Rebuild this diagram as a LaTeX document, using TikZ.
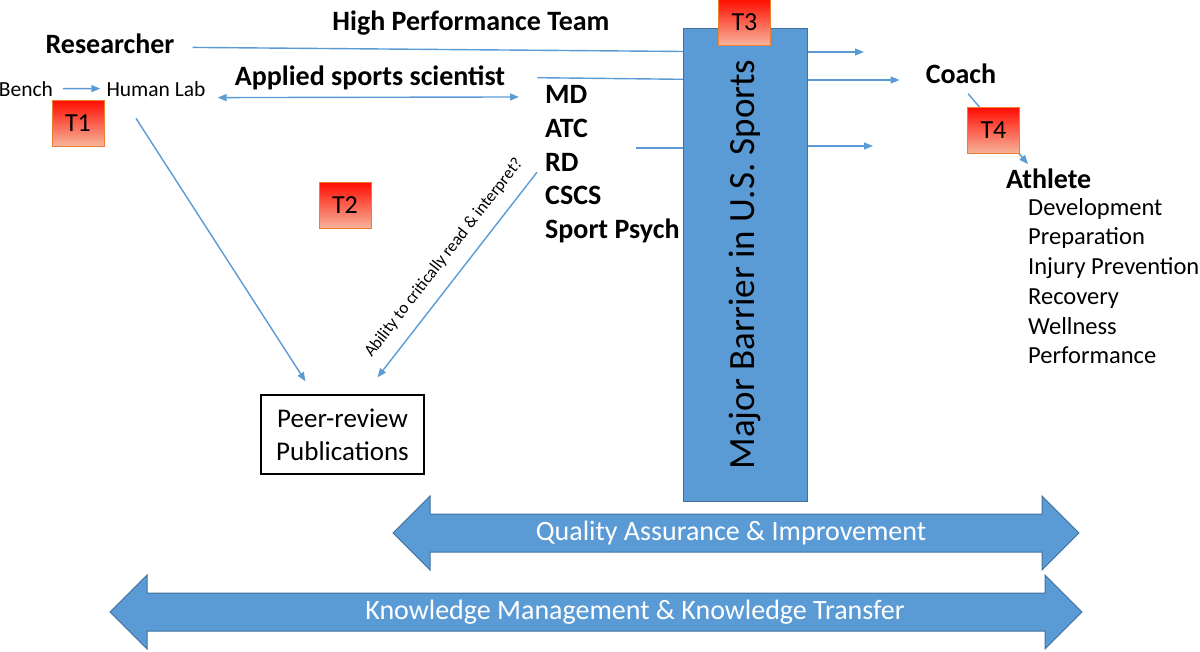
\documentclass[tikz,border=0pt]{standalone}
\usepackage{fontspec}
\setmainfont{Carlito}
\usetikzlibrary{positioning, arrows.meta, calc}
\definecolor{officeblue}{RGB}{91, 155, 213}
\definecolor{edgeblue}{RGB}{65, 113, 156}
\definecolor{tred}{RGB}{255, 12, 0}
\definecolor{tpink}{RGB}{247, 180, 155}
\definecolor{torange}{RGB}{237, 125, 49}
\tikzset{
  role/.style={font=\fontsize{28}{32}\selectfont\bfseries, inner sep=2pt},
  plain/.style={font=\fontsize{21.5}{26}\selectfont, inner sep=2pt},
  goal/.style={font=\fontsize{24.5}{28}\selectfont, inner sep=2pt, anchor=base west},
  tbox/.style={
    draw=torange, line width=0.8pt,
    top color=tred, bottom color=tpink,
    minimum width=52pt, minimum height=46pt,
    inner sep=0pt, font=\fontsize{26}{30}\selectfont
  },
  link/.style={draw=officeblue, line width=1.4pt},
  signal/.style={link, -{Triangle[length=9pt, width=7pt]}},
  bisignal/.style={link, {Triangle[length=9pt, width=7pt]}-{Triangle[length=9pt, width=7pt]}},
  bigarrow/.style={fill=officeblue, draw=edgeblue, line width=1pt},
  bigtext/.style={font=\fontsize{28}{32}\selectfont, text=white}
}
\newcommand{\drawbigarrow}[6]{
  \draw[bigarrow]
    (#1, #3) -- (#1+37, #3-37) -- (#1+37, #3-19) --
    (#2-37, #3-19) -- (#2-37, #3-37) -- (#2, #3) --
    (#2-37, #3+37) -- (#2-37, #3+19) --
    (#1+37, #3+19) -- (#1+37, #3+37) -- cycle;
  \node[bigtext] (#4) at (#5, #3) {#6};
}

\begin{document}
\begin{tikzpicture}[x=1pt, y=-1pt]
\useasboundingbox (0,0) rectangle (1200,651);

% Roles
\node[role, anchor=base] (hpt) at (471,30) {High Performance Team};
\node[role, anchor=base] (researcher) at (110,53) {Researcher};
\node[role, anchor=base] (applied) at (370,85) {Applied sports scientist};
\node[plain, anchor=base] (bench) at (26,96) {Bench};
\node[plain, anchor=base] (humanlab) at (156,96) {Human Lab};

% Practitioners
\node[role, anchor=base west] (md) at (543,103) {MD};
\node[role, anchor=base west] (atc) at (543,137) {ATC};
\node[role, anchor=base west] (rd) at (543,171) {RD};
\node[role, anchor=base west] (cscs) at (543,204) {CSCS};
\node[role, anchor=base west] (psych) at (543,238) {Sport Psych};

% Coach and Athlete
\node[role, anchor=base] (coach) at (961,83) {Coach};
\node[role, anchor=base west] (athlete) at (1004,188) {Athlete};
\node[goal] (dev) at (1026,215) {Development};
\node[goal] (prep) at (1026,244) {Preparation};
\node[goal] (injury) at (1026,274) {Injury Prevention};
\node[goal] (recov) at (1026,304) {Recovery};
\node[goal] (well) at (1026,334) {Wellness};
\node[goal] (perf) at (1026,363) {Performance};

% Peer-review
\node[draw, line width=1.3pt, minimum width=163pt, minimum height=79pt, align=center,
  font=\fontsize{27}{33}\selectfont] (peer) at (342.5,434.5) {Peer-review\\Publications};

% Free ends
\coordinate (hpt_end) at (864,52);
\coordinate (rd_start) at (636,148);
\coordinate (rd_end) at (873,146);

% Conexiones
\draw[signal, shorten <=8pt, shorten >=4pt] (bench.east) -- (humanlab.west);
\draw[bisignal, shorten <=10pt, shorten >=24pt] ([yshift=-9pt]humanlab.east) -- ([yshift=-3pt]md.west);
\draw[link, shorten <=16pt] ([yshift=-4pt]researcher.east) -- (745,52);
\draw[link, shorten <=30pt] (applied.east) -- (745,80);
\draw[link] (rd_start) -- (745,148);
\draw[signal] ($(humanlab.south)+(-20,20)$) -- ($(peer.north)+(-37,-13)$);
\draw[{Triangle[length=9pt, width=7pt]}-, link] ($(peer.north)+(35,-17)$) -- ([shift={(-6pt,1pt)}]rd.south west)
  node[pos=0.52, sloped, above=13pt, font=\fontsize{17}{20}\selectfont, inner sep=0pt] (ability) {Ability to critically read \& interpret?};
\draw[signal, shorten <=11pt] (coach.south) -- ($(athlete.north west)+(24,-2)$);

% Barrier
\node[draw=edgeblue, fill=officeblue, line width=1pt, minimum width=124pt, minimum height=473pt] (barrier) at (745,264.5) {};
\node[rotate=90, font=\fontsize{37}{40}\selectfont] (barriertext) at (barrier.center) {Major Barrier in U.S. Sports};
\draw[signal] (barrier.east |- {0,52}) -- (hpt_end);
\draw[signal, shorten >=24pt] (barrier.east |- {0,80}) -- (coach.west |- {0,80});
\draw[signal] (barrier.east |- {0,146}) -- (rd_end);

% Translational gaps
\node[tbox] (t1) at (78,123) {T1};
\node[tbox] (t2) at (345,205) {T2};
\node[tbox] (t3) at (744.5,22) {T3};
\node[tbox] (t4) at (993.5,130.5) {T4};

% Big arrows
\drawbigarrow{393}{1079}{533}{quality}{731}{Quality Assurance \& Improvement}
\drawbigarrow{110}{1082}{612}{knowledge}{635}{Knowledge Management \& Knowledge Transfer}

\end{tikzpicture}
\end{document}
